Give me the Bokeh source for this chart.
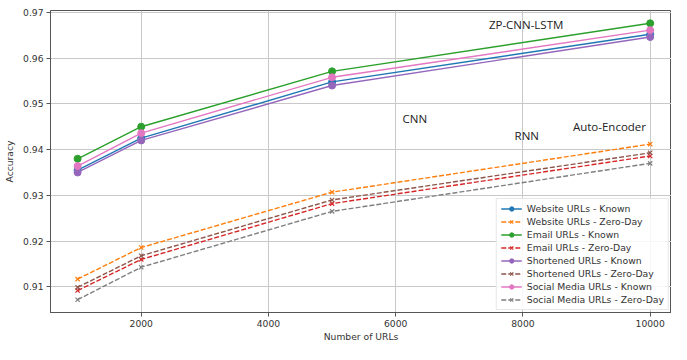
from bokeh.plotting import figure
from bokeh.models import Range1d, FixedTicker, Label, Legend
from bokeh.embed import file_html
from bokeh.resources import INLINE

num_urls = [1000, 2000, 5000, 10000]

website_known = [0.9355, 0.9425, 0.9548, 0.9652]
website_zero = [0.9117, 0.9186, 0.9307, 0.9412]
email_known = [0.9380, 0.9450, 0.9571, 0.9676]
email_zero = [0.9092, 0.9160, 0.9282, 0.9386]
short_known = [0.9350, 0.9420, 0.9540, 0.9646]
short_zero = [0.9099, 0.9168, 0.9290, 0.9393]
social_known = [0.9364, 0.9436, 0.9558, 0.9661]
social_zero = [0.9072, 0.9143, 0.9265, 0.9370]

series_names = [
    "Website URLs - Known", "Website URLs - Zero-Day",
    "Email URLs - Known", "Email URLs - Zero-Day",
    "Shortened URLs - Known", "Shortened URLs - Zero-Day",
    "Social Media URLs - Known", "Social Media URLs - Zero-Day",
]
series_values = [website_known, website_zero, email_known, email_zero,
                 short_known, short_zero, social_known, social_zero]
colors = ["#1f77b4", "#ff7f0e", "#2ca02c", "#d62728",
          "#9467bd", "#8c564b", "#e377c2", "#7f7f7f"]

x_ticks = [2000, 4000, 6000, 8000, 10000]
y_ticks = [0.91, 0.92, 0.93, 0.94, 0.95, 0.96, 0.97]
y_tick_labels = ["0.91", "0.92", "0.93", "0.94", "0.95", "0.96", "0.97"]

model_labels = ["ZP-CNN-LSTM", "CNN", "RNN", "Auto-Encoder"]
model_x = [8050, 6300, 8060, 9360]
model_y = [0.9673, 0.9468, 0.9431, 0.9450]

p = figure(width=671, height=344, output_backend="svg", toolbar_location=None,
           x_range=Range1d(574, 10335), y_range=Range1d(0.9044, 0.9704),
           min_border_left=50, min_border_right=0, min_border_top=10, min_border_bottom=30)

p.background_fill_color = "white"
p.outline_line_color = "#555555"
p.outline_line_width = 1

p.xgrid.ticker = FixedTicker(ticks=x_ticks)
p.ygrid.ticker = FixedTicker(ticks=y_ticks)
p.grid.grid_line_color = "#c8c8c8"
p.grid.grid_line_width = 1

legend_items = []
for name, vals, col in zip(series_names, series_values, colors):
    if "Known" in name:
        r1 = p.line(num_urls, vals, line_color=col, line_width=1.4)
        r2 = p.scatter(num_urls, vals, marker="circle", size=7, color=col)
    else:
        r1 = p.line(num_urls, vals, line_color=col, line_width=1.4, line_dash="5 2")
        r2 = p.scatter(num_urls, vals, marker="x", size=6, line_color=col, line_width=1.2)
    legend_items.append((name, [r1, r2]))

legend = Legend(items=legend_items, location="bottom_right")
legend.label_text_font = "DejaVu Sans"
legend.label_text_font_size = "9.3px"
legend.label_text_color = "#333333"
legend.glyph_width = 21
legend.glyph_height = 11
legend.label_height = 11
legend.label_standoff = 5
legend.spacing = 2
legend.padding = 4
legend.margin = 2
legend.border_line_color = "#d0d0d0"
legend.background_fill_alpha = 0.85
p.add_layout(legend)

for t, xv, yv in zip(model_labels, model_x, model_y):
    p.add_layout(Label(x=xv, y=yv, text=t, text_align="center", text_baseline="middle",
                       text_font="Open Sans", text_font_size="11.5px",
                       text_color="#222222"))

for ax in [p.xaxis[0], p.yaxis[0]]:
    ax.major_label_text_font = "DejaVu Sans"
    ax.major_label_text_font_size = "9.2px"
    ax.major_label_text_color = "#333333"
    ax.axis_label_text_font = "DejaVu Sans"
    ax.axis_label_text_font_size = "9.2px"
    ax.axis_label_text_font_style = "normal"
    ax.axis_label_text_color = "#333333"
    ax.axis_line_color = "#555555"
    ax.major_tick_line_color = "#555555"
    ax.major_tick_out = 4
    ax.major_tick_in = 0
    ax.minor_tick_line_color = None
    ax.major_label_standoff = 3

p.xaxis.axis_label_standoff = 1
p.yaxis.axis_label_standoff = 5
p.xaxis.ticker = FixedTicker(ticks=x_ticks)
p.yaxis.ticker = FixedTicker(ticks=y_ticks)
p.yaxis.major_label_overrides = {t: l for t, l in zip(y_ticks, y_tick_labels)}
p.xaxis.axis_label = "Number of URLs"
p.yaxis.axis_label = "Accuracy"

open("out.html", "w").write(file_html(p, INLINE))
